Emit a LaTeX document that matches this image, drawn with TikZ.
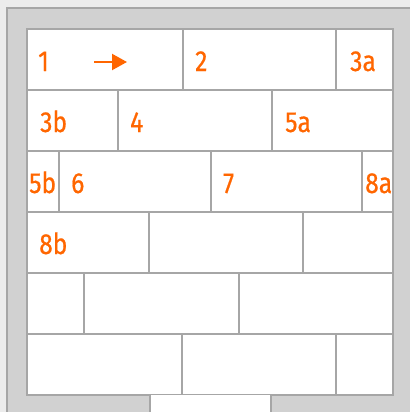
\documentclass[tikz,border=0pt]{standalone}
\usepackage{fontspec}
\setmainfont{Fira Sans}[FakeStretch=0.85, FakeBold=0.6]
\usepackage{xcolor}
\usetikzlibrary{arrows.meta}
\definecolor{brickorange}{HTML}{FF6600}
\definecolor{jointgray}{HTML}{A6A6A6}
\definecolor{framegray}{HTML}{D1D1D1}
\definecolor{pagegray}{HTML}{ECECEC}

\begin{document}
\begin{tikzpicture}[x=1pt, y=-1pt,
    joint/.style={draw=jointgray, line width=1.6pt},
    lbl/.style={anchor=base west, inner sep=0pt, text=brickorange, font=\fontsize{29}{29}\selectfont},
    arrow/.style={-{Triangle[length=15pt, width=16pt]}, draw=brickorange, line width=2.2pt}]

    \useasboundingbox (0,0) rectangle (410,412);
    \fill[pagegray] (0,0) rectangle (410,412);
    \fill[framegray] (7,8) rectangle (410,412);
    \draw[joint] (7,412) -- (7,8) -- (410,8);
    \filldraw[fill=white, joint] (27,29) rectangle (393,395);

    % bed joints
    \foreach \r in {1,...,5}
        \draw[joint] (27,29+61*\r) -- (393,29+61*\r);

    % head joints, row by row
    \foreach \r/\xs in {0/{183,336}, 1/{118,272}, 2/{59,211,362}, 3/{149,303}, 4/{84,239}, 5/{182,336}}
        \foreach \x in \xs
            \draw[joint] (\x,29+61*\r) -- (\x,90+61*\r);

    % opening below the wall
    \fill[white] (150,395) rectangle (271,412);
    \draw[joint] (150,395) -- (150,412);
    \draw[joint] (271,395) -- (271,412);

    \node[lbl] (b1) at (38,71) {1};
    \node[lbl] (b2) at (195,71) {2};
    \node[lbl] (b3a) at (350,71) {3a};
    \node[lbl] (b3b) at (40,132) {3b};
    \node[lbl] (b4) at (130,132) {4};
    \node[lbl] (b5a) at (285,132) {5a};
    \node[lbl] (b5b) at (29,193) {5b};
    \node[lbl] (b6) at (71,193) {6};
    \node[lbl] (b7) at (223,193) {7};
    \node[lbl] (b8a) at (365,193) {8a};
    \node[lbl] (b8b) at (39,254) {8b};

    \coordinate (arrtail) at (94,62);
    \coordinate (arrtip) at (127,62);
    \draw[arrow] (arrtail) -- (arrtip);
\end{tikzpicture}
\end{document}
